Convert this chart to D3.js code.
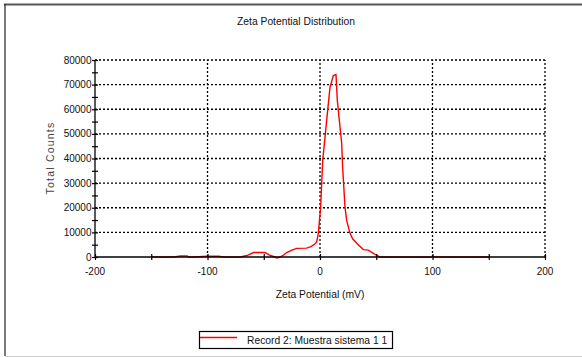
<!DOCTYPE html>
<html><head><meta charset="utf-8">
<script src="https://cdn.jsdelivr.net/npm/d3@7"></script>
<style>body{margin:0;background:#fff;} text{font-family:"Liberation Sans",Arial,sans-serif;}</style>
</head><body><svg id="c" width="582" height="357"></svg>
<script>
const zeta = [-150,-130,-124,-118,-117,-112,-100,-90,-86,-71,-65,-59,-49,-44,-40,-38.5,-35.6,-32,-29.6,-25,-20.7,-12,-8,-5,-3,-1.5,0.6,2.4,3.6,5.9,8.9,11.9,14.2,15.4,17.2,19.3,20.1,22.2,23.7,26.7,29,32.6,38.5,42.9,48.9,53.3,60,100,150];
const counts = [0,0,400,400,0,0,300,300,0,0,600,1800,1800,600,0,-400,0,900,1800,2800,3500,3600,4200,5200,6000,9600,20400,39300,44600,55400,69000,73700,74100,63600,55400,46100,36500,20400,14900,9600,7400,5600,3000,2800,1100,0,0,0,0];
const xTicks = [-200,-100,0,100,200];
const yTicks = [0,10000,20000,30000,40000,50000,60000,70000,80000];
const title = "Zeta Potential Distribution";
const xLabel = "Zeta Potential (mV)";
const yLabel = "Total Counts";
const legendLabel = "Record 2: Muestra sistema 1 1";

const svg = d3.select("#c");
// frame
svg.append("line").attr("x1",4).attr("x2",582).attr("y1",4.5).attr("y2",4.5).attr("stroke","#555").attr("stroke-width",2);
svg.append("line").attr("x1",5).attr("x2",5).attr("y1",4).attr("y2",356).attr("stroke","#222").attr("stroke-width",1.2);
svg.append("line").attr("x1",5).attr("x2",582).attr("y1",356.5).attr("y2",356.5).attr("stroke","#ccc").attr("stroke-width",1);

const x = d3.scaleLinear().domain([-200,200]).range([95,545]);
const y = d3.scaleLinear().domain([0,80000]).range([257,60]);

// grid
const g = svg.append("g");
g.selectAll(".hg").data(yTicks.filter(d=>d>0)).join("line")
  .attr("x1",x(-200)).attr("x2",x(200)).attr("y1",d=>y(d)).attr("y2",d=>y(d))
  .attr("stroke","#000").attr("stroke-width",1.3).attr("stroke-dasharray","2,2");
g.selectAll(".vg").data(xTicks.filter(d=>d>-200)).join("line")
  .attr("x1",d=>x(d)).attr("x2",d=>x(d)).attr("y1",y(0)).attr("y2",y(80000))
  .attr("stroke","#000").attr("stroke-width",1.3).attr("stroke-dasharray","2,2");

// data line
const line = d3.line().x((d,i)=>x(zeta[i])).y((d,i)=>y(counts[i]));
svg.append("path").datum(counts).attr("d",line).attr("fill","none").attr("stroke","#ff0000").attr("stroke-width",1.4);

// axes
const xAxis = d3.axisBottom(x).tickValues(d3.range(-200,201,50)).tickSize(3).tickFormat("");
const xa = svg.append("g").attr("transform",`translate(0,${y(0)})`).call(xAxis);
xa.select(".domain").attr("stroke","#000").attr("stroke-width",1.3).attr("d",`M${x(-200)},0H${x(200)}`);
xa.selectAll(".tick line").attr("y1",-3).attr("y2",3).attr("stroke","#000").attr("stroke-width",1.2);
const yAxis = d3.axisLeft(y).tickValues(d3.range(0,80001,5000)).tickSize(3).tickFormat("");
const ya = svg.append("g").attr("transform",`translate(${x(-200)},0)`).call(yAxis);
ya.select(".domain").attr("stroke","#000").attr("stroke-width",1.3).attr("d",`M0,${y(0)}V${y(80000)}`);
ya.selectAll(".tick line").attr("x1",-3).attr("x2",3).attr("stroke","#000").attr("stroke-width",1.2);

// tick labels
svg.selectAll(".xl").data(xTicks).join("text").attr("x",d=>x(d)).attr("y",275)
  .attr("text-anchor","middle").attr("font-size",10).attr("fill","#111").text(d=>d);
svg.selectAll(".yl").data(yTicks).join("text").attr("x",91.5).attr("y",d=>y(d)+3.5)
  .attr("text-anchor","end").attr("font-size",10).attr("fill","#111").text(d=>d);

// titles
svg.append("text").attr("x",296).attr("y",25).attr("text-anchor","middle").attr("font-size",10.3).attr("fill","#111").text(title);
svg.append("text").attr("x",320).attr("y",298).attr("text-anchor","middle").attr("font-size",10.3).attr("fill","#111").text(xLabel);
svg.append("text").attr("transform","translate(54,158) rotate(-90)").attr("text-anchor","middle").attr("font-size",10.5).attr("letter-spacing",1.2).attr("fill","#444").text(yLabel);

// legend
svg.append("rect").attr("x",199.5).attr("y",331.5).attr("width",193).attr("height",17).attr("fill","#fff").attr("stroke","#000").attr("stroke-width",1.2);
svg.append("line").attr("x1",200).attr("x2",237).attr("y1",337.5).attr("y2",337.5).attr("stroke","#ff0000").attr("stroke-width",1.4);
svg.append("text").attr("x",247).attr("y",343.5).attr("font-size",10.3).attr("fill","#111").text(legendLabel);
</script></body></html>
